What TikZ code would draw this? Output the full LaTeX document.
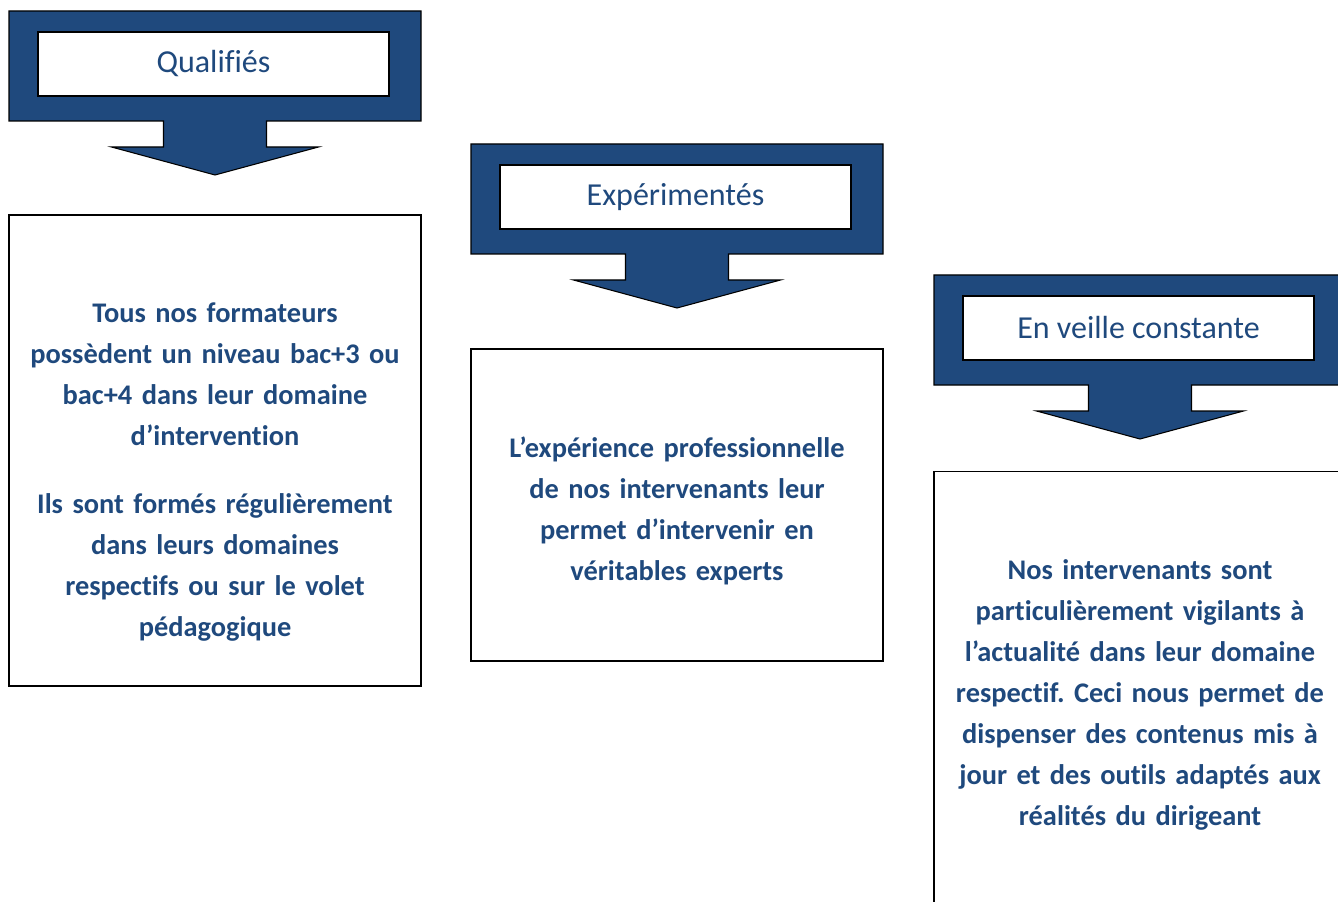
\documentclass[tikz,border=0pt]{standalone}
\usepackage{fontspec}
\setmainfont{Carlito}[Ligatures=CommonOff]
\usetikzlibrary{positioning}
\definecolor{navy}{HTML}{1F497D}
\frenchspacing
\tikzset{
  banner/.style={draw=black, line width=0.8pt, fill=navy},
  titlebox/.style={draw=black, line width=1pt, fill=white, minimum width=263.25pt,
    minimum height=48pt, inner sep=0pt, text=navy, font=\fontsize{24}{29}\selectfont},
  infobox/.style={draw=black, line width=1pt, minimum width=309pt, inner sep=0pt},
  infotext/.style={text=navy, font=\bfseries\fontsize{21.3}{30.75}\selectfont,
    align=center, text width=300pt, inner sep=0pt, anchor=north}
}
\begin{document}
\begin{tikzpicture}[x=0.75pt, y=-0.75pt]
    \useasboundingbox (0,0) rectangle (1338,902);
    \clip (0,0) rectangle (1338,902);
    % arrow callouts
    \foreach \cx/\ty/\name/\title in {215/11/qual/Qualifiés, 677/144/expe/Expérimentés, 1140/275/veil/En veille constante}{
        \draw [banner] (\cx-206,\ty) -- (\cx+206,\ty) -- (\cx+206,\ty+110) -- (\cx+51.5,\ty+110)
            -- (\cx+51.5,\ty+136) -- (\cx+103.5,\ty+136) -- (\cx,\ty+164) -- (\cx-103.5,\ty+136)
            -- (\cx-51.5,\ty+136) -- (\cx-51.5,\ty+110) -- (\cx-206,\ty+110) -- cycle;
        \node [titlebox] (\name) at (\cx-1.5,\ty+53) {\title};
    }
    % text boxes
    \node [infobox, minimum height=353.25pt] (qualbox) at (215,450.5) {};
    \node [infobox, minimum height=234pt] (expebox) at (677,505) {};
    \node [infobox, minimum height=360pt, anchor=north] (veilbox) at (1140,471) {};
    \node [infotext] (qualtext) at ([yshift=-66pt]qualbox.north)
        {Tous nos formateurs\\ possèdent un niveau bac+3 ou\\ bac+4 dans leur domaine\\ d’intervention\\[20pt]
         Ils sont formés régulièrement\\ dans leurs domaines\\ respectifs ou sur le volet\\ pédagogique};
    \node [infotext] (expetext) at ([yshift=-66pt]expebox.north)
        {L’expérience professionnelle\\ de nos intervenants leur\\ permet d’intervenir en\\ véritables experts};
    \node [infotext] (veiltext) at ([yshift=-66pt]veilbox.north)
        {Nos intervenants sont\\ particulièrement vigilants à\\ l’actualité dans leur domaine\\ respectif. Ceci nous permet de\\
         dispenser des contenus mis à\\ jour et des outils adaptés aux\\ réalités du dirigeant};
\end{tikzpicture}
\end{document}
